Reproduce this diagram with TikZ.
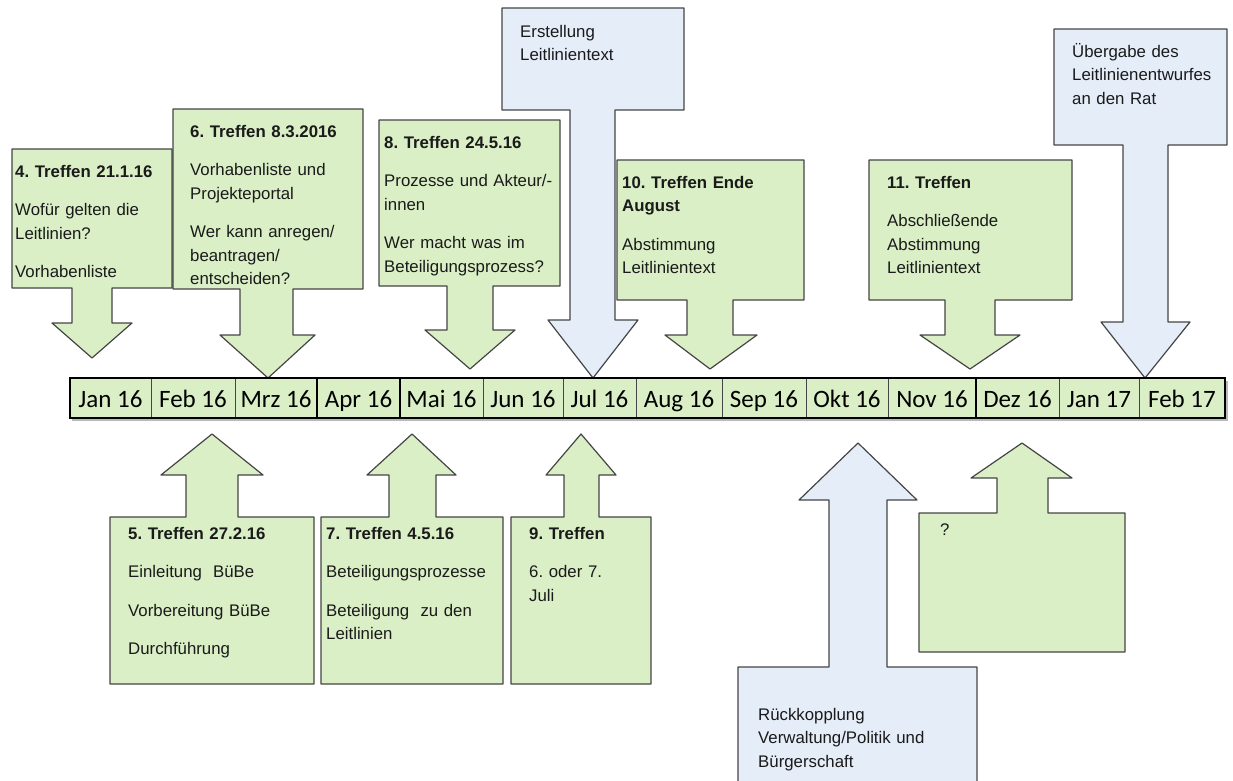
\documentclass[tikz,border=0pt]{standalone}
\usepackage{fontspec}
\setmainfont{Liberation Sans}
\newfontfamily\monatfont{Carlito}
\usepackage{tikz}
\frenchspacing
\definecolor{gruen}{HTML}{DAEFC6}
\definecolor{blau}{HTML}{E5EDF8}
\definecolor{rand}{HTML}{454545}
\definecolor{schrift}{HTML}{1A1A1A}
\tikzset{
  pfeilgruen/.style={fill=gruen, draw=rand, line width=1.2pt, line join=round},
  pfeilblau/.style={fill=blau, draw=rand, line width=1.2pt, line join=round},
  boxtext/.style={anchor=base west, inner sep=0pt, text width=#1, align=left,
    text=schrift, font=\fontsize{16.8}{23.5}\selectfont},
  boxtext/.default=190pt,
  zelle/.style={fill=gruen, draw=rand, line width=1pt},
  monat/.style={anchor=base, inner sep=0pt, text=black,
    font=\monatfont\fontsize{25}{30}\selectfont}
}

\begin{document}
\begin{tikzpicture}[x=1pt, y=-1pt]
        \clip (0,0) rectangle (1233,780);

        % Treffen oben
        \filldraw[pfeilgruen] (12,149) -- (172,149) -- (172,288) -- (112,288) -- (112,323) -- (132,323)
            -- (92,358) -- (52,323) -- (72,323) -- (72,288) -- (12,288) -- cycle;
        \node[boxtext=155pt] (t4) at (15,177) {\textbf{4. Treffen 21.1.16}\\[15pt]
            Wofür gelten die\\Leitlinien?\\[15pt]Vorhabenliste};

        \filldraw[pfeilgruen] (173,109) -- (363,109) -- (363,289) -- (293,289) -- (293,335) -- (315,335)
            -- (268,378) -- (220,335) -- (240,335) -- (240,289) -- (173,289) -- cycle;
        \node[boxtext=170pt] (t6) at (190,137) {\textbf{6. Treffen 8.3.2016}\\[15pt]
            Vorhabenliste und\\Projekteportal\\[15pt]Wer kann anregen/\\beantragen/\\entscheiden?};

        \filldraw[pfeilgruen] (379,120) -- (560,120) -- (560,286) -- (493,286) -- (493,330) -- (515,330)
            -- (470,369) -- (425,330) -- (447,330) -- (447,286) -- (379,286) -- cycle;
        \node[boxtext=175pt] (t8) at (384,148) {\textbf{8. Treffen 24.5.16}\\[15pt]
            Prozesse und Akteur/-\\innen\\[15pt]Wer macht was im\\Beteiligungsprozess?};

        \filldraw[pfeilblau] (502,8) -- (684,8) -- (684,110) -- (615,110) -- (615,320) -- (638,320)
            -- (593,378) -- (548,320) -- (570,320) -- (570,110) -- (502,110) -- cycle;
        \node[boxtext=160pt] (te) at (520,37) {Erstellung\\Leitlinientext};

        \filldraw[pfeilgruen] (617,160) -- (804,160) -- (804,300) -- (733,300) -- (733,335) -- (757,335)
            -- (710,369) -- (665,335) -- (687,335) -- (687,300) -- (617,300) -- cycle;
        \node[boxtext=175pt] (t10) at (622,188) {\textbf{10. Treffen Ende}\\\textbf{August}\\[15pt]
            Abstimmung\\Leitlinientext};

        \filldraw[pfeilgruen] (869,160) -- (1072,160) -- (1072,300) -- (995,300) -- (995,335) -- (1020,335)
            -- (970,369) -- (920,335) -- (945,335) -- (945,300) -- (869,300) -- cycle;
        \node[boxtext=175pt] (t11) at (887,188) {\textbf{11. Treffen}\\[15pt]
            Abschließende\\Abstimmung\\Leitlinientext};

        \filldraw[pfeilblau] (1054,29) -- (1227,29) -- (1227,145) -- (1168,145) -- (1168,322) -- (1190,322)
            -- (1145,378) -- (1101,322) -- (1123,322) -- (1123,145) -- (1054,145) -- cycle;
        \node[boxtext=150pt] (tu) at (1072,57) {Übergabe des\\Leitlinienentwurfes\\an den Rat};

        % Treffen unten
        \filldraw[pfeilgruen] (110,517) -- (186,517) -- (186,475) -- (161,475) -- (212,434) -- (263,475)
            -- (238,475) -- (238,517) -- (314,517) -- (314,684) -- (110,684) -- cycle;
        \node[boxtext=180pt] (t5) at (128,539) {\textbf{5. Treffen 27.2.16}\\[15pt]
            Einleitung\ \ BüBe\\[15pt]Vorbereitung BüBe\\[15pt]Durchführung};

        \filldraw[pfeilgruen] (321,517) -- (389,517) -- (389,475) -- (367,475) -- (412,434) -- (456,475)
            -- (436,475) -- (436,517) -- (503,517) -- (503,684) -- (321,684) -- cycle;
        \node[boxtext=175pt] (t7) at (326,539) {\textbf{7. Treffen 4.5.16}\\[15pt]
            Beteiligungsprozesse\\[15pt]Beteiligung\ \ zu den\\Leitlinien};

        \filldraw[pfeilgruen] (511,517) -- (564,517) -- (564,475) -- (546,475) -- (581,434) -- (616,475)
            -- (599,475) -- (599,517) -- (651,517) -- (651,684) -- (511,684) -- cycle;
        \node[boxtext=120pt] (t9) at (529,539) {\textbf{9. Treffen}\\[15pt]6. oder 7.\\Juli};

        \filldraw[pfeilblau] (738,667) -- (829,667) -- (829,500) -- (799,500) -- (858,443) -- (917,500)
            -- (887,500) -- (887,667) -- (977,667) -- (977,795) -- (738,795) -- cycle;
        \node[boxtext=215pt] (tr) at (758,720) {Rückkopplung\\Verwaltung/Politik und\\Bürgerschaft};

        \filldraw[pfeilgruen] (919,513) -- (997,513) -- (997,478) -- (971,478) -- (1022,443) -- (1072,478)
            -- (1048,478) -- (1048,513) -- (1125,513) -- (1125,652) -- (919,652) -- cycle;
        \node[boxtext=40pt] (tq) at (940,535) {?};

        % Zeitleiste
        \fill[gray!55] (72,381) rectangle (1228,421);
        \foreach \a/\b/\name [count=\i] in {70/151/Jan 16, 151/235/Feb 16, 235/317/Mrz 16,
            317/400/Apr 16, 400/483/Mai 16, 483/563/Jun 16, 563/636/Jul 16, 636/722/Aug 16,
            722/806/Sep 16, 806/888/Okt 16, 888/976/Nov 16, 976/1059/Dez 16,
            1059/1139/Jan 17, 1139/1225/Feb 17}
        {
            \draw[zelle] (\a,378) rectangle (\b,418);
            \node[monat] (m\i) at ({(\a+\b)/2},407) {\name};
        }
        \draw[line width=1.8pt] (317,378) -- (317,418) (400,378) -- (400,418) (976,378) -- (976,418);
        \draw[line width=2pt] (70,378) rectangle (1225,418);
    \end{tikzpicture}
\end{document}
